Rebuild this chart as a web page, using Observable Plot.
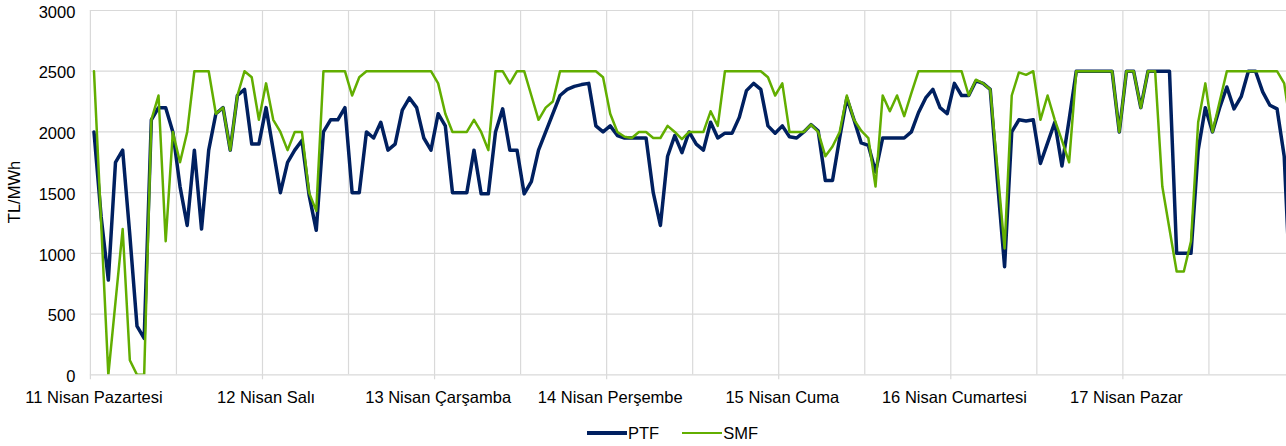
<!DOCTYPE html>
<html>
<head>
<meta charset="utf-8">
<script src="https://cdn.jsdelivr.net/npm/d3@7"></script>
<script src="https://cdn.jsdelivr.net/npm/@observablehq/plot@0.6"></script>
<style>
  html, body { margin: 0; padding: 0; background: #fff; }
  #wrap { position: relative; width: 1286px; height: 446px; overflow: hidden; font-family: "Liberation Sans", Arial, sans-serif; }
  #ylabel { position: absolute; left: 14px; top: 192px; transform: translate(-50%, -50%) rotate(-90deg); font-size: 16.5px; color: #000; white-space: nowrap; }
  #legend { position: absolute; left: 587px; top: 421px; height: 24px; display: flex; align-items: center; font-size: 16.5px; color: #000; }
  .sw { display: inline-block; width: 40px; margin-right: 1px; }
</style>
</head>
<body>
<div id="wrap">
  <div id="chart"></div>
  <div id="ylabel">TL/MWh</div>
  <div id="legend">
    <span class="sw" style="height:3.5px;background:#002060"></span><span style="margin-right:23px">PTF</span>
    <span class="sw" style="height:2.5px;background:#62ae00"></span><span>SMF</span>
  </div>
</div>
<script>
const dayLabels = ["11 Nisan Pazartesi", "12 Nisan Salı", "13 Nisan Çarşamba", "14 Nisan Perşembe", "15 Nisan Cuma", "16 Nisan Cumartesi", "17 Nisan Pazar"];
const dayStarts = [0, 24, 48, 72, 96, 120, 144];
const dayTicks = [-0.5, 23.5, 47.5, 71.5, 95.5, 119.5, 143.5];
const gridHours = [-0.5, 11.5, 23.5, 35.5, 47.5, 59.5, 71.5, 83.5, 95.5, 107.5, 119.5, 131.5, 143.5, 155.5];
const yTicks = [0, 500, 1000, 1500, 2000, 2500, 3000];

const ptf = [
2000,1300,780,1750,1850,1150,400,300,2100,2200,2200,2000,1550,1230,1850,1200,1850,2150,2200,1850,2300,2350,1900,1900,
2200,1850,1500,1750,1850,1930,1480,1190,2000,2100,2100,2200,1500,1500,2000,1950,2080,1850,1900,2180,2280,2200,1950,1850,
2150,2050,1500,1500,1500,1850,1490,1490,2000,2190,1850,1850,1490,1590,1850,2000,2150,2300,2350,2375,2390,2400,2050,2000,
2050,1970,1950,1950,1950,1950,1500,1230,1800,1970,1830,2000,1900,1850,2080,1950,1990,1990,2120,2340,2400,2350,2050,1990,
2050,1960,1950,2000,2060,2010,1600,1600,1950,2280,2100,1910,1890,1670,1950,1950,1950,1950,2000,2160,2280,2350,2200,2150,
2400,2300,2300,2420,2400,2350,1600,890,2000,2100,2090,2100,1740,1910,2080,1720,2100,2500,2500,2500,2500,2500,2500,2000,
2500,2500,2200,2500,2500,2500,2500,1000,1000,1000,1850,2200,2000,2200,2370,2190,2290,2500,2500,2330,2220,2190,1800,500];

const smf = [
2500,1250,0,600,1200,120,0,0,2100,2300,1100,2000,1750,2000,2500,2500,2500,2150,2200,1850,2300,2500,2450,2100,
2400,2100,2000,1850,2000,2000,1500,1350,2500,2500,2500,2500,2300,2450,2500,2500,2500,2500,2500,2500,2500,2500,2500,2500,
2400,2150,2000,2000,2000,2100,2000,1850,2500,2500,2400,2500,2500,2300,2100,2200,2250,2500,2500,2500,2500,2500,2500,2450,
2150,2000,1960,1950,2000,2000,1950,1950,2050,2000,1940,2000,2000,2000,2170,2050,2500,2500,2500,2500,2500,2500,2450,2300,
2400,2000,2000,2000,2060,2000,1800,1880,2000,2300,2100,2010,1950,1550,2300,2170,2300,2130,2320,2500,2500,2500,2500,2500,
2500,2500,2300,2430,2400,2350,1700,1040,2300,2490,2470,2500,2100,2300,2100,1930,1750,2500,2500,2500,2500,2500,2500,2000,
2500,2500,2200,2500,2500,1550,1200,850,850,1100,2080,2400,2000,2250,2500,2500,2500,2500,2500,2500,2500,2500,2400,2000];

const labelAt = new Map(dayStarts.map((d, k) => [d, dayLabels[k]]));

const chart = Plot.plot({
  width: 1286,
  height: 412,
  marginLeft: 89.9,
  marginRight: 0,
  marginTop: 10,
  marginBottom: 37.7,
  style: { fontFamily: "'Liberation Sans', Arial, sans-serif", fontSize: "16.5px", color: "#000", background: "#fff", overflow: "visible" },
  x: { type: "linear", domain: [-0.5, 166.32], axis: null },
  y: { domain: [0, 3000], axis: null },
  marks: [
    Plot.ruleY(yTicks, { stroke: "#d9d9d9", strokeWidth: 1.2 }),
    Plot.ruleX(gridHours, { stroke: "#d9d9d9", strokeWidth: 1.2 }),
    Plot.axisX(dayTicks, { tickSize: 5, tickFormat: () => "", stroke: "#d9d9d9", strokeWidth: 1.2, label: null }),
    Plot.axisX(dayStarts, { tickSize: 0, tickPadding: 16, tickFormat: d => labelAt.get(d), fill: "#000", label: null }),
    Plot.axisY(yTicks, { tickSize: 0, tickPadding: 15, dy: 2, tickFormat: d => String(d), fill: "#000", label: null }),
    Plot.lineY(ptf, { x: (d, i) => i, y: d => d, stroke: "#002060", strokeWidth: 3.5, strokeLinejoin: "round", clip: true }),
    Plot.lineY(smf, { x: (d, i) => i, y: d => d, stroke: "#62ae00", strokeWidth: 2.5, strokeLinejoin: "round", clip: true })
  ]
});
document.getElementById("chart").appendChild(chart);
</script>
</body>
</html>
